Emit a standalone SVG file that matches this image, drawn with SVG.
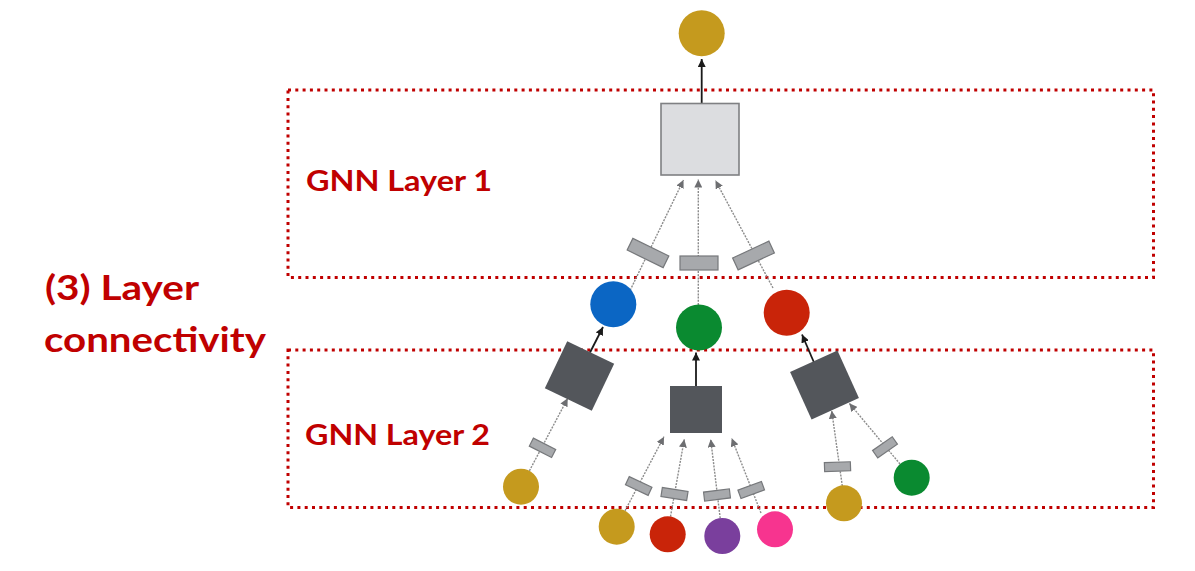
<svg xmlns="http://www.w3.org/2000/svg" width="1195" height="571" viewBox="0 0 1195 571">
<style>
.frame{fill:none;stroke:#c00000;stroke-width:3;stroke-dasharray:3 4.3}
.lbl{font-family:Lato,"Open Sans","Liberation Sans",sans-serif;font-weight:700;fill:#c00000}
.msg{stroke:#8c8c8c;stroke-width:1.4;stroke-dasharray:2 1.2;fill:none;marker-end:url(#ga)}
.out{stroke:#1a1a1a;stroke-width:1.8;fill:none;marker-end:url(#ba)}
.edge{fill:#a7a9ac;stroke:#76787b;stroke-width:1.2}
.agg{fill:#53565b}
</style>
<defs>
<marker id="ga" markerUnits="userSpaceOnUse" viewBox="0 0 8 8" refX="8" refY="4" markerWidth="8" markerHeight="8" orient="auto"><path d="M0,0 L8,4 L0,8 z" fill="#6d6e71"/></marker>
<marker id="ba" markerUnits="userSpaceOnUse" viewBox="0 0 8 8" refX="8" refY="4" markerWidth="8" markerHeight="8" orient="auto"><path d="M0,0 L8,4 L0,8 z" fill="#1a1a1a"/></marker>
</defs>
<rect width="1195" height="571" fill="#ffffff"/>

<g id="layer-frames">
<rect class="frame" x="288" y="90" width="865.5" height="187.5"/>
<rect class="frame" x="288" y="350" width="865.5" height="157.5"/>
</g>

<g id="labels">
<text class="lbl" x="45" y="300" font-size="34" textLength="154" lengthAdjust="spacingAndGlyphs">(3) Layer</text>
<text class="lbl" x="44" y="352" font-size="34" textLength="222" lengthAdjust="spacingAndGlyphs">connectivity</text>
<text class="lbl" x="306" y="191" font-size="29" textLength="186" lengthAdjust="spacingAndGlyphs">GNN Layer 1</text>
<text class="lbl" x="305" y="445" font-size="29" textLength="185" lengthAdjust="spacingAndGlyphs">GNN Layer 2</text>
</g>

<g id="connectors">
<line class="out" x1="701.7" y1="103" x2="701.7" y2="59"/>
<line class="msg" x1="627.4" y1="296" x2="683.5" y2="180"/>
<line class="msg" x1="698.3" y1="305" x2="698.3" y2="179.5"/>
<line class="msg" x1="773" y1="288" x2="715.5" y2="180.5"/>
<line class="out" x1="590" y1="352.5" x2="603" y2="327"/>
<line class="out" x1="696" y1="386" x2="696" y2="352.5"/>
<line class="out" x1="814" y1="362.5" x2="802" y2="334.5"/>
<line class="msg" x1="529.4" y1="470.8" x2="567.7" y2="398.3"/>
<line class="msg" x1="625" y1="510.8" x2="664" y2="436.7"/>
<line class="msg" x1="670.5" y1="516.5" x2="684.3" y2="439.3"/>
<line class="msg" x1="720.2" y1="518.2" x2="710.7" y2="439.3"/>
<line class="msg" x1="761" y1="513" x2="731.7" y2="438.3"/>
<line class="msg" x1="842.3" y1="486" x2="831.7" y2="410.7"/>
<line class="msg" x1="900" y1="464" x2="849.3" y2="403.3"/>
</g>

<g id="edge-transforms">
<rect class="edge" x="-20" y="-6.5" width="40" height="13" transform="translate(648,253) rotate(26)"/>
<rect class="edge" x="680" y="256" width="38" height="14"/>
<rect class="edge" x="-20" y="-6.5" width="40" height="13" transform="translate(753.5,255.5) rotate(-25)"/>
<rect class="edge" x="-12.5" y="-4.5" width="25" height="9" transform="translate(542.5,447.8) rotate(27)"/>
<rect class="edge" x="-12.5" y="-4.5" width="25" height="9" transform="translate(638.7,486) rotate(25)"/>
<rect class="edge" x="-13" y="-4.5" width="26" height="9" transform="translate(674.5,494) rotate(9)"/>
<rect class="edge" x="-13" y="-4.5" width="26" height="9" transform="translate(717,495) rotate(-7)"/>
<rect class="edge" x="-12.5" y="-4.5" width="25" height="9" transform="translate(751.2,490) rotate(-20)"/>
<rect class="edge" x="-13" y="-4.5" width="26" height="9" transform="translate(837.5,466.7) rotate(-2)"/>
<rect class="edge" x="-12" y="-4.5" width="24" height="9" transform="translate(885,447.3) rotate(-35)"/>
</g>

<g id="agg-layer1">
<rect x="661" y="103.5" width="78" height="71.5" fill="#dcdde0" stroke="#7f8083" stroke-width="1.6"/>
</g>
<g id="agg-layer2-left">
<rect class="agg" x="-26" y="-26" width="52" height="52" transform="translate(579.5,376) rotate(25.5)"/>
</g>
<g id="agg-layer2-mid">
<rect class="agg" x="670" y="386" width="52" height="47"/>
</g>
<g id="agg-layer2-right">
<rect class="agg" x="-26" y="-26" width="52" height="52" transform="translate(824.5,385) rotate(-24.4)"/>
</g>

<g id="node-target"><circle cx="701.7" cy="33.3" r="23" fill="#c59a1e"/></g>
<g id="node-blue"><circle cx="613.3" cy="304.3" r="23" fill="#0b66c4"/></g>
<g id="node-green"><circle cx="699" cy="327.5" r="23" fill="#0a8a30"/></g>
<g id="node-red"><circle cx="786.7" cy="312.7" r="23" fill="#c92409"/></g>
<g id="node-gold-left"><circle cx="521" cy="486.7" r="18" fill="#c59a1e"/></g>
<g id="node-gold-mid"><circle cx="616.7" cy="526.7" r="18" fill="#c59a1e"/></g>
<g id="node-red-mid"><circle cx="667.7" cy="534.3" r="18" fill="#c92409"/></g>
<g id="node-purple"><circle cx="722.3" cy="536" r="18" fill="#7a3f9d"/></g>
<g id="node-pink"><circle cx="775" cy="529.3" r="18" fill="#f7348f"/></g>
<g id="node-gold-right"><circle cx="844" cy="503.3" r="18" fill="#c59a1e"/></g>
<g id="node-green-right"><circle cx="911.7" cy="477.7" r="18" fill="#0a8a30"/></g>
</svg>
